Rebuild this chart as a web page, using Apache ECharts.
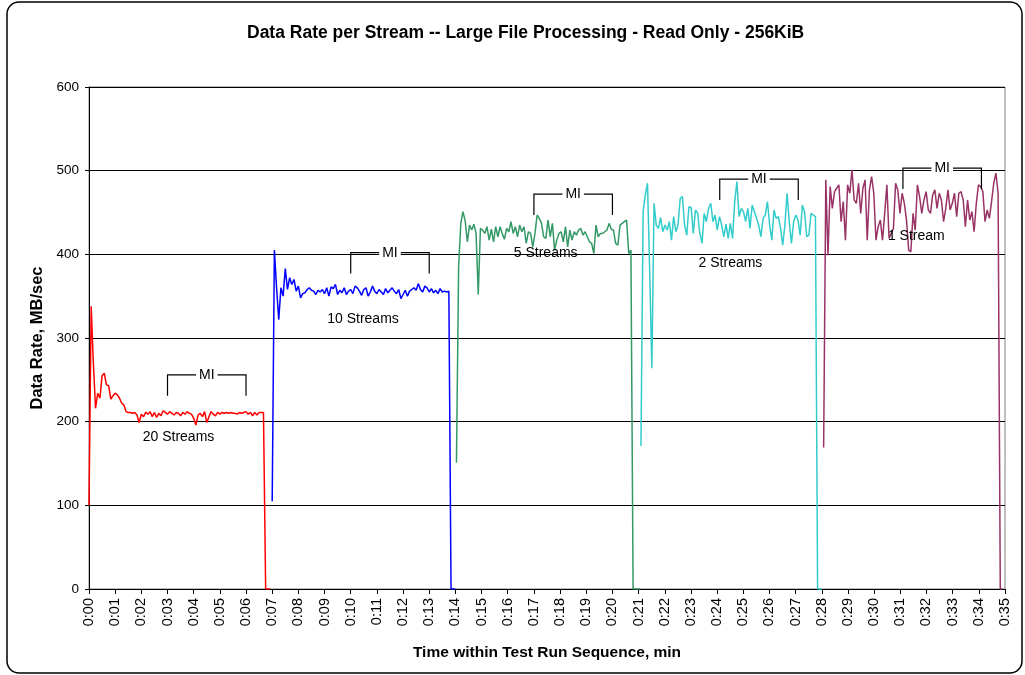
<!DOCTYPE html>
<html>
<head>
<meta charset="utf-8">
<script src="https://cdn.jsdelivr.net/npm/echarts@6/dist/echarts.min.js"></script>
<style>
  html, body { margin: 0; padding: 0; background: #fff; }
  #chart { width: 1025px; height: 675px; }
</style>
</head>
<body>
<div id="chart"></div>
<script>
// sample spacing: 5 s = 1/12 min
const STEP = 1 / 12

// data rate per stream (MB/sec), one array per run, sampled every STEP from its start minute
const red20 = [100,338,270,216,234,228,255,258,244,243,227,231,234,232,228,222,220,212,211,211,210,211,208,199,209,206,211,209,212,206,211,205,210,207,213,211,209,212,210,208,211,210,207,211,209,212,210,209,204,196,208,210,206,212,199,206,212,209,207,211,209,211,210,211,210,211,210,210,209,211,210,211,212,209,211,207,211,208,211,211,211,0,0,0]
const blue10 = [105,405,360,322,360,350,383,358,372,364,370,356,362,348,353,354,358,360,357,356,352,357,355,358,353,360,350,361,359,364,352,357,354,360,352,356,358,353,362,360,356,351,358,360,350,355,362,356,353,358,355,352,359,354,357,360,356,353,358,347,352,357,350,356,358,360,357,365,358,355,362,360,355,359,354,357,353,359,355,356,355,356,0,0,0]
const green5 = [151,385,437,451,440,415,435,429,436,425,352,431,429,425,433,417,430,415,433,421,433,425,418,431,427,439,425,433,421,435,427,433,413,427,425,409,425,447,443,437,421,419,441,421,437,405,417,425,427,415,433,409,429,417,427,423,429,431,423,427,421,415,413,401,435,421,425,425,427,429,437,430,429,413,411,435,437,439,441,401,405,0,0,0,0]
const cyan2 = [171,451,471,485,380,264,461,435,431,444,427,435,429,439,417,445,427,435,467,469,435,423,457,456,425,453,449,425,413,449,439,455,461,439,447,429,445,435,421,436,419,437,419,463,487,445,455,451,439,455,431,459,451,443,435,421,443,447,463,435,417,453,443,445,431,411,435,473,439,413,439,447,441,423,459,451,421,423,449,447,445,0,0,0]
const purple1 = [169,489,399,481,455,475,479,483,439,463,417,483,473,501,465,461,485,449,479,489,417,477,493,473,417,433,441,417,449,483,419,425,431,485,477,449,473,461,441,405,403,449,429,483,469,449,465,475,453,449,471,477,455,473,465,439,455,477,453,461,473,445,473,475,465,433,465,441,451,427,461,483,481,475,439,453,443,463,485,497,473,0,0]

const runStarts = [0, 7.0, 14.04, 21.09, 28.07]
const runColors = ['#ff0000', '#0000ff', '#339966', '#33cccc', '#993366']
const runValues = [red20, blue10, green5, cyan2, purple1]

// text labels inside the plot
const labelText = ['20 Streams', '10 Streams', '5 Streams', '2 Streams', '1 Stream']
const labelX = [3.42, 10.47, 17.45, 24.51, 31.61]
const labelY = [182, 322, 401, 389, 422]

// measurement interval brackets
const miStart = [3, 10, 17, 24.1, 31.1]
const miEnd = [6, 13, 20, 27.1, 34.1]
const miLevel = [256, 402, 472, 490, 503]
const MI_DEPTH = 25

const FONT = '"Liberation Sans", Arial, sans-serif'
const pad2 = n => (n < 10 ? '0' : '') + n

const chart = echarts.init(document.getElementById('chart'), null, { renderer: 'canvas' })

const lineSeries = runValues.map((vals, k) => ({
  type: 'line',
  data: vals.map((v, i) => [runStarts[k] + i * STEP, v]),
  showSymbol: false,
  symbol: 'none',
  lineStyle: { color: runColors[k], width: 1.5 },
  z: 3,
}))

chart.setOption({
  animation: false,
  backgroundColor: '#fff',
  textStyle: { fontFamily: FONT },
  title: {
    text: 'Data Rate per Stream -- Large File Processing - Read Only - 256KiB',
    left: 242, top: 19,
    textStyle: { fontFamily: FONT, fontSize: 17.5, fontWeight: 'bold', color: '#000' },
  },
  graphic: [{
    type: 'rect',
    shape: { x: 7, y: 2, width: 1015, height: 671, r: 12 },
    style: { fill: 'none', stroke: '#000', lineWidth: 1.5 },
    silent: true,
  }],
  grid: { left: 89, right: 20, top: 87, bottom: 86, show: true, borderColor: '#808080', borderWidth: 1, backgroundColor: 'transparent' },
  xAxis: {
    type: 'value', min: 0, max: 35, interval: 1,
    name: 'Time within Test Run Sequence, min', nameLocation: 'middle', nameGap: 56,
    nameTextStyle: { fontFamily: FONT, fontSize: 15.5, fontWeight: 'bold', color: '#000' },
    axisLine: { lineStyle: { color: '#000', width: 1 } },
    axisTick: { show: true, length: 5, lineStyle: { color: '#000' } },
    axisLabel: { rotate: 90, margin: 9, fontSize: 14.5, color: '#000', fontFamily: FONT, formatter: v => '0:' + pad2(v) },
    splitLine: { show: false },
  },
  yAxis: {
    type: 'value', min: 0, max: 600, interval: 100,
    name: 'Data Rate, MB/sec', nameLocation: 'middle', nameGap: 43,
    nameTextStyle: { fontFamily: FONT, fontSize: 16.5, fontWeight: 'bold', color: '#000' },
    axisLine: { show: true, lineStyle: { color: '#000', width: 1 } },
    axisTick: { show: true, length: 4, lineStyle: { color: '#000' } },
    axisLabel: { margin: 10, fontSize: 13.5, color: '#000', fontFamily: FONT },
    splitLine: { lineStyle: { color: '#000', width: 1 } },
  },
  series: [
    ...lineSeries,
    {
      type: 'custom',
      data: miStart.map((s, i) => [s, miEnd[i], miLevel[i]]),
      encode: { x: [0, 1], y: 2 },
      clip: false,
      z: 5,
      renderItem: (params, api) => {
        const a = api.coord([api.value(0), api.value(2)])
        const b = api.coord([api.value(1), api.value(2)])
        const d = api.size([0, MI_DEPTH])[1]
        return {
          type: 'group',
          children: [
            { type: 'polyline', shape: { points: [[a[0], a[1] + d], [a[0], a[1]], [b[0], b[1]], [b[0], b[1] + d]] },
              style: { stroke: '#000', fill: null, lineWidth: 1.2 } },
            { type: 'text', x: (a[0] + b[0]) / 2, y: a[1],
              style: { text: 'MI', fill: '#000', font: '14px ' + FONT, align: 'center', verticalAlign: 'middle', backgroundColor: '#fff', padding: [1, 3] } },
          ],
        }
      },
    },
    {
      type: 'custom',
      data: labelX.map((x, i) => [x, labelY[i], i]),
      encode: { x: 0, y: 1 },
      clip: false,
      z: 6,
      renderItem: (params, api) => {
        const p = api.coord([api.value(0), api.value(1)])
        return { type: 'text', x: p[0], y: p[1],
          style: { text: labelText[api.value(2)], fill: '#000', font: '14px ' + FONT, align: 'center', verticalAlign: 'middle' } }
      },
    },
  ],
})
</script>
</body>
</html>
